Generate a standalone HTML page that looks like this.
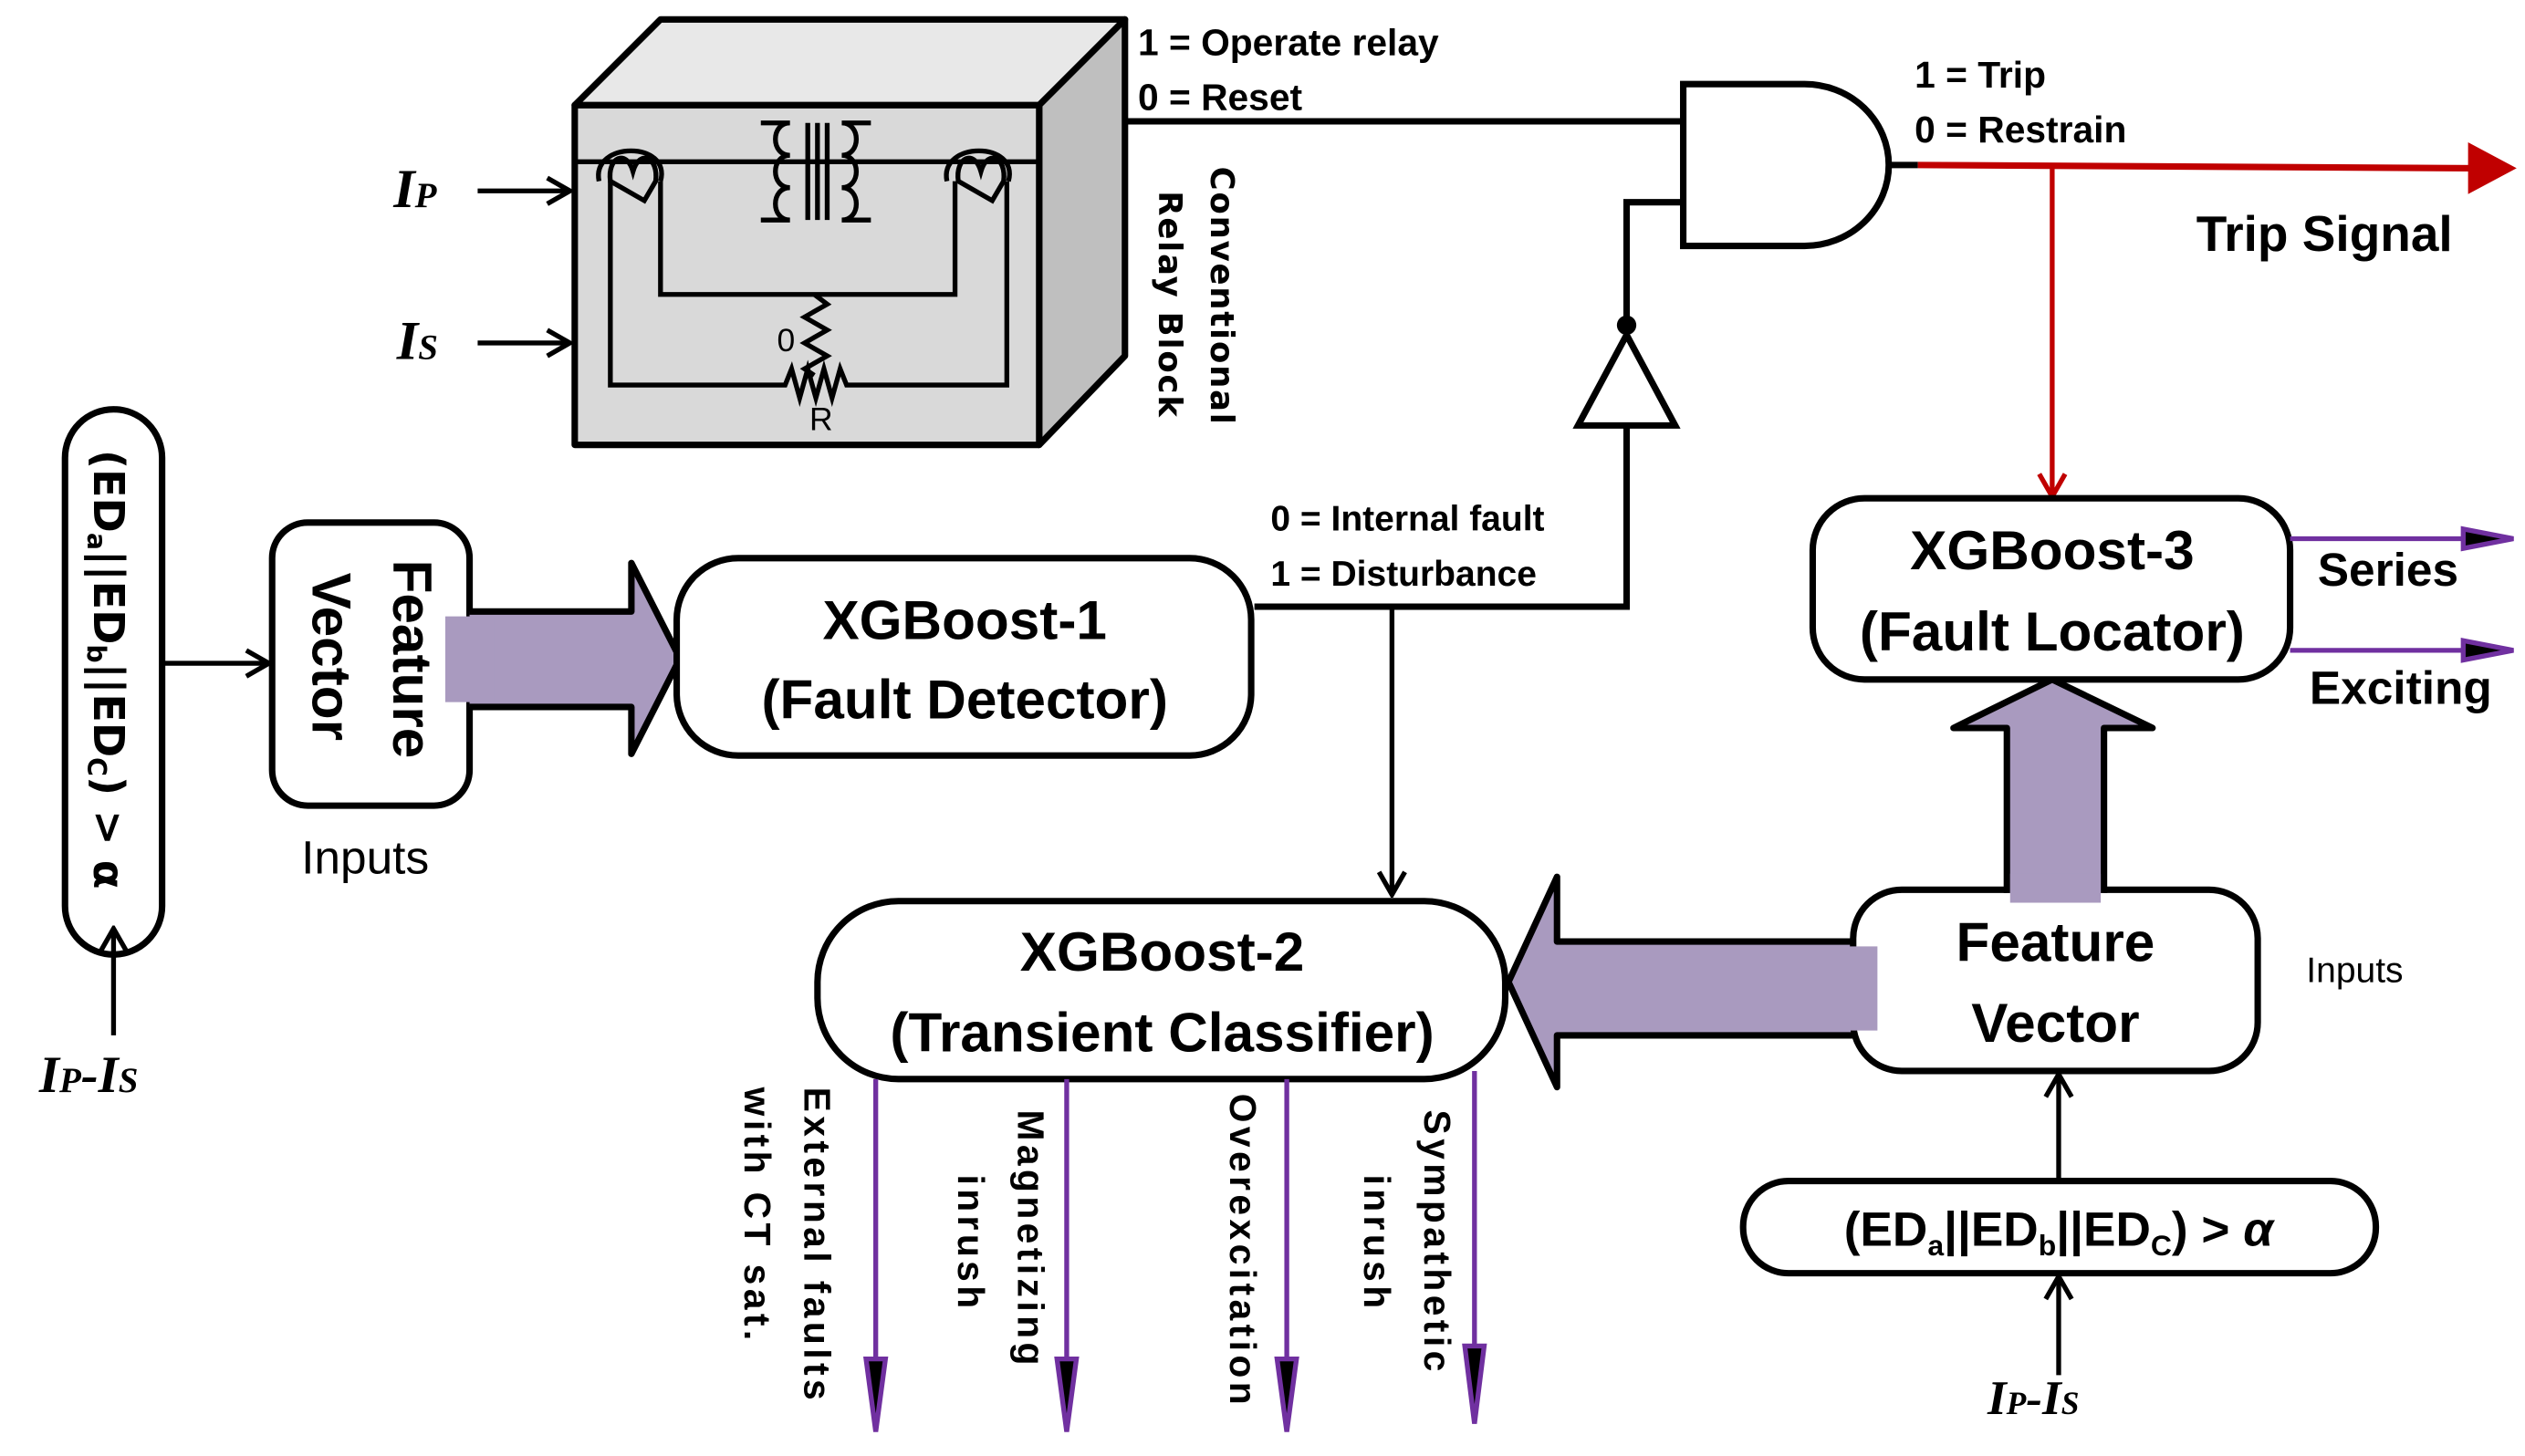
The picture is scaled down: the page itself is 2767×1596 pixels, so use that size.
<!DOCTYPE html>
<html><head><meta charset="utf-8"><style>
html,body{margin:0;padding:0;background:#fff}
svg{display:block}
text{font-family:"Liberation Sans","DejaVu Sans",sans-serif}
.b{font-weight:bold}
.dv{font-family:"DejaVu Sans",sans-serif;font-weight:bold}
.it{font-family:"Liberation Serif",serif;font-style:italic;font-weight:bold}
</style></head><body>
<svg width="2767" height="1596" viewBox="0 0 1560 900" xmlns="http://www.w3.org/2000/svg">
<defs>
<marker id="oa" markerWidth="20" markerHeight="20" refX="18" refY="10" orient="auto" markerUnits="userSpaceOnUse">
<path d="M4 2 L18 10 L4 18" fill="none" stroke="#000" stroke-width="3"/></marker>
<marker id="ora" markerWidth="20" markerHeight="20" refX="18" refY="10" orient="auto" markerUnits="userSpaceOnUse">
<path d="M4 2 L18 10 L4 18" fill="none" stroke="#c00000" stroke-width="3"/></marker>
</defs>
<!-- Cube -->
<g stroke="#000" stroke-width="4" stroke-linejoin="round">
<polygon points="355,65 408,12 695,12 642,65" fill="#e8e8e8"/>
<polygon points="642,65 695,12 695,220 642,275" fill="#bfbfbf"/>
<rect x="355" y="65" width="287" height="210" fill="#d9d9d9"/>
</g>
<g stroke="#000" stroke-width="3" fill="none">
<line x1="355" y1="100" x2="642" y2="100"/>
<path d="M377 112 L377 238 L485 238 l4 -10 l5 18 l5 -18 l5 18 l5 -18 l5 18 l5 -18 l4 10 L622 238 L622 112"/>
<path d="M408 112 L408 182 L590 182 L590 112"/>
<path d="M503 182 l8 6 l-14 8 l14 8 l-14 8 l14 8 l-14 8 l6 4"/>
<path d="M370 112 c-5 -25 45 -25 38 0 M377 112 c-2 -15 10 -20 14 -6 c4 -14 16 -9 14 6 l-7 12 z"/>
<path d="M585 112 c-5 -25 45 -25 38 0 M592 112 c-2 -15 10 -20 14 -6 c4 -14 16 -9 14 6 l-7 12 z"/>
<path d="M470 76 h18 c-12 0 -12 20 0 20 c-12 0 -12 20 0 20 c-12 0 -12 20 0 20 h-18"/>
<path d="M538 76 h-18 c12 0 12 20 0 20 c12 0 12 20 0 20 c12 0 12 20 0 20 h18"/>
<line x1="499" y1="76" x2="499" y2="136"/><line x1="505" y1="76" x2="505" y2="136"/><line x1="511" y1="76" x2="511" y2="136"/>
</g>
<text x="480" y="217" font-size="20">0</text>
<text x="500" y="266" font-size="20">R</text>
<!-- Ip / Is -->
<text x="243" y="128" class="it" font-size="34">I<tspan font-size="22">P</tspan></text>
<text x="245" y="222" class="it" font-size="34">I<tspan font-size="22">S</tspan></text>
<g stroke="#000" stroke-width="3" fill="none">
<line x1="295" y1="118" x2="352" y2="118" marker-end="url(#oa)"/>
<line x1="295" y1="212" x2="352" y2="212" marker-end="url(#oa)"/>
</g>
<text x="703" y="34" font-size="23" class="b">1 = Operate relay</text>
<text x="703" y="68" font-size="23" class="b">0 = Reset</text>
<text transform="translate(748,103) rotate(90)" font-size="20" class="dv" letter-spacing="1">Conventional</text>
<text transform="translate(716,118) rotate(90)" font-size="20" class="dv" letter-spacing="1">Relay Block</text>
<!-- AND gate & NOT -->
<g stroke="#000" stroke-width="4" fill="none">
<line x1="695" y1="75" x2="1040" y2="75"/>
<path d="M1040 52 H1115 A52 50 0 0 1 1115 152 H1040 Z" fill="#fff"/>
<path d="M1040 125 H1005 V200"/>
<polygon points="1005,207 1035,263 975,263" fill="#fff"/>
<path d="M1005 263 V375 H775"/>
<line x1="1167" y1="102" x2="1185" y2="102"/>
</g>
<circle cx="1005" cy="201" r="6" fill="#000"/>
<line x1="860" y1="375" x2="860" y2="553" stroke="#000" stroke-width="3" marker-end="url(#oa)"/>
<line x1="1185" y1="102" x2="1530" y2="104" stroke="#c00000" stroke-width="4"/>
<polygon points="1525,88 1555,104 1525,120" fill="#c00000"/>
<line x1="1268" y1="104" x2="1268" y2="307" stroke="#c00000" stroke-width="3" marker-end="url(#ora)"/>
<text x="1183" y="54" font-size="23" class="b">1 = Trip</text>
<text x="1183" y="88" font-size="23" class="b">0 = Restrain</text>
<text x="1357" y="155" font-size="31" class="b">Trip Signal</text>
<text x="785" y="328" font-size="22" class="b">0 = Internal fault</text>
<text x="785" y="362" font-size="22" class="b">1 = Disturbance</text>
<!-- left pill -->
<rect x="40" y="253" width="60" height="337" rx="30" fill="#fff" stroke="#000" stroke-width="4"/>
<text transform="translate(58,278) rotate(90)" font-size="26" class="dv" font-weight="normal">(ED<tspan font-size="16" dy="4">a</tspan><tspan dy="-4">||ED</tspan><tspan font-size="16" dy="4">b</tspan><tspan dy="-4">||ED</tspan><tspan font-size="16" dy="4">C</tspan><tspan dy="-4">) &gt; α</tspan></text>
<line x1="70" y1="640" x2="70" y2="574" stroke="#000" stroke-width="3" marker-end="url(#oa)"/>
<text x="24" y="675" class="it" font-size="32">I<tspan font-size="22">P</tspan>-I<tspan font-size="22">S</tspan></text>
<line x1="100" y1="410" x2="166" y2="410" stroke="#000" stroke-width="3" marker-end="url(#oa)"/>
<rect x="168" y="323" width="122" height="175" rx="22" fill="#fff" stroke="#000" stroke-width="4"/>
<text transform="translate(243,346) rotate(90)" font-size="34" class="b">Feature</text>
<text transform="translate(193,354) rotate(90)" font-size="34" class="b">Vector</text>
<text x="186" y="540" font-size="29">Inputs</text>
<!-- right-pointing arrow -->
<path d="M290 378 H390 V348 L420 407 L390 466 V437 H290" fill="#a99abf" stroke="#000" stroke-width="4" stroke-linejoin="round"/>
<rect x="275" y="381" width="30" height="53" fill="#a99abf"/>
<!-- XGBoost-1 -->
<rect x="418" y="345" width="355" height="122" rx="38" fill="#fff" stroke="#000" stroke-width="4"/>
<text x="596" y="395" font-size="34" class="b" text-anchor="middle">XGBoost-1</text>
<text x="596" y="444" font-size="34" class="b" text-anchor="middle">(Fault Detector)</text>
<!-- XGBoost-2 -->
<rect x="505" y="557" width="425" height="110" rx="50" fill="#fff" stroke="#000" stroke-width="4"/>
<text x="718" y="600" font-size="34" class="b" text-anchor="middle">XGBoost-2</text>
<text x="718" y="650" font-size="34" class="b" text-anchor="middle">(Transient Classifier)</text>
<!-- left arrow -->
<path d="M1150 582 H962 V542 L932 607 L962 672 V640 H1150" fill="#a99abf" stroke="#000" stroke-width="4" stroke-linejoin="round"/>
<!-- Feature vector right -->
<rect x="1145" y="550" width="250" height="112" rx="30" fill="#fff" stroke="#000" stroke-width="4"/>
<rect x="1135" y="585" width="25" height="52" fill="#a99abf"/>
<path d="M1240 552 V450 H1207 L1268 420 L1330 450 H1300 V552" fill="#a99abf" stroke="#000" stroke-width="4" stroke-linejoin="round"/>
<rect x="1242" y="540" width="56" height="18" fill="#a99abf"/>
<text x="1270" y="594" font-size="34" class="b" text-anchor="middle">Feature</text>
<text x="1270" y="644" font-size="34" class="b" text-anchor="middle">Vector</text>
<text x="1425" y="607" font-size="22">Inputs</text>
<!-- XGBoost-3 -->
<rect x="1120" y="308" width="295" height="112" rx="32" fill="#fff" stroke="#000" stroke-width="4"/>
<text x="1268" y="352" font-size="34" class="b" text-anchor="middle">XGBoost-3</text>
<text x="1268" y="402" font-size="34" class="b" text-anchor="middle">(Fault Locator)</text>
<g stroke="#7030a0" stroke-width="3">
<line x1="1415" y1="333" x2="1525" y2="333"/>
<line x1="1415" y1="402" x2="1525" y2="402"/>
</g>
<polygon points="1522,327 1553,333 1522,339" fill="#000" stroke="#7030a0" stroke-width="3"/>
<polygon points="1522,396 1553,402 1522,408" fill="#000" stroke="#7030a0" stroke-width="3"/>
<text x="1432" y="362" font-size="29" class="b">Series</text>
<text x="1427" y="435" font-size="29" class="b">Exciting</text>
<!-- bottom pill -->
<rect x="1077" y="730" width="391" height="57" rx="28" fill="#fff" stroke="#000" stroke-width="4"/>
<text x="1272" y="770" font-size="30" class="b" text-anchor="middle">(ED<tspan font-size="18" dy="6">a</tspan><tspan dy="-6">||ED</tspan><tspan font-size="18" dy="6">b</tspan><tspan dy="-6">||ED</tspan><tspan font-size="18" dy="6">C</tspan><tspan dy="-6">) &gt; </tspan><tspan font-style="italic">α</tspan></text>
<line x1="1272" y1="730" x2="1272" y2="664" stroke="#000" stroke-width="3" marker-end="url(#oa)"/>
<line x1="1272" y1="850" x2="1272" y2="789" stroke="#000" stroke-width="3" marker-end="url(#oa)"/>
<text x="1228" y="874" class="it" font-size="30">I<tspan font-size="20">P</tspan>-I<tspan font-size="20">S</tspan></text>
<!-- purple down arrows -->
<g stroke="#7030a0" stroke-width="3">
<line x1="541" y1="667" x2="541" y2="842"/>
<line x1="659" y1="667" x2="659" y2="842"/>
<line x1="795" y1="667" x2="795" y2="842"/>
<line x1="911" y1="662" x2="911" y2="832"/>
<polygon points="535,840 547,840 541,885" fill="#000"/>
<polygon points="653,840 665,840 659,885" fill="#000"/>
<polygon points="789,840 801,840 795,885" fill="#000"/>
<polygon points="905,832 917,832 911,880" fill="#000"/>
</g>
<g font-size="23" class="dv" letter-spacing="2.5">
<text transform="translate(497,672) rotate(90)">External faults</text>
<text transform="translate(460,672) rotate(90)">with CT sat.</text>
<text transform="translate(629,686) rotate(90)">Magnetizing</text>
<text transform="translate(592,726) rotate(90)">inrush</text>
<text transform="translate(760,676) rotate(90)">Overexcitation</text>
<text transform="translate(880,686) rotate(90)">Sympathetic</text>
<text transform="translate(843,726) rotate(90)">inrush</text>
</g>
</svg>
</body></html>
